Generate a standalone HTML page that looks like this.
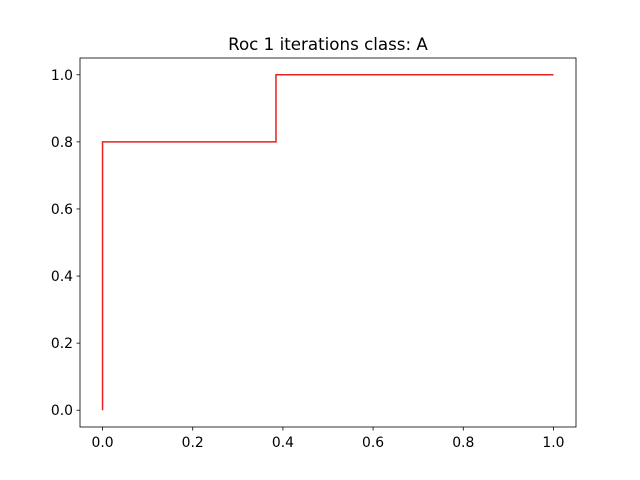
<!DOCTYPE html>
<html><head><meta charset="utf-8">
<style>html,body{margin:0;padding:0;background:#fff;}svg{display:block;font-family:"DejaVu Sans","Liberation Sans",sans-serif;}</style>
</head><body>
<svg id="chart" width="640" height="480" viewBox="0 0 640 480">
<rect width="640" height="480" fill="#fff"/>
<text x="328" y="50" text-anchor="middle" font-size="16.7" fill="#000">Roc 1 iterations class: A</text>
<g id="plot"></g>
</svg>
<script>
const fprValues = [0, 0, 0.3846, 0.3846, 1];
const tprValues = [0, 0.8, 0.8, 1, 1];
const xTickLabels = ["0.0","0.2","0.4","0.6","0.8","1.0"];
const yTickLabels = ["0.0","0.2","0.4","0.6","0.8","1.0"];
const L=80,R=576,T=58,B=427,xmin=-0.05,xmax=1.05,ymin=-0.05,ymax=1.05;
const sx=v=>L+(v-xmin)/(xmax-xmin)*(R-L);
const sy=v=>B-(v-ymin)/(ymax-ymin)*(B-T);
const NS="http://www.w3.org/2000/svg";
const g=document.getElementById('plot');
function mk(t,a){const e=document.createElementNS(NS,t);for(const k in a)e.setAttribute(k,a[k]);g.appendChild(e);return e;}
const line=mk('polyline',{points:fprValues.map((x,i)=>sx(x)+','+sy(tprValues[i])).join(' '),fill:'none',stroke:'#e8201f','stroke-width':1.5});


const frame=mk('rect',{x:L,y:T,width:R-L,height:B-T,fill:'none',stroke:'#000','stroke-width':0.8});


xTickLabels.forEach(s=>{const v=parseFloat(s),x=sx(v);
 mk('line',{x1:x,x2:x,y1:B,y2:B+3.5,stroke:'#000','stroke-width':0.8});
 const t=mk('text',{x:x,y:B+20,'text-anchor':'middle','font-size':13.9,fill:'#000'});t.textContent=s;
 
 });
yTickLabels.forEach(s=>{const v=parseFloat(s),y=sy(v);
 mk('line',{x1:L-3.5,x2:L,y1:y,y2:y,stroke:'#000','stroke-width':0.8});
 const t=mk('text',{x:L-7,y:y+5,'text-anchor':'end','font-size':13.9,fill:'#000'});t.textContent=s;
 
 });
</script>
</body></html>
